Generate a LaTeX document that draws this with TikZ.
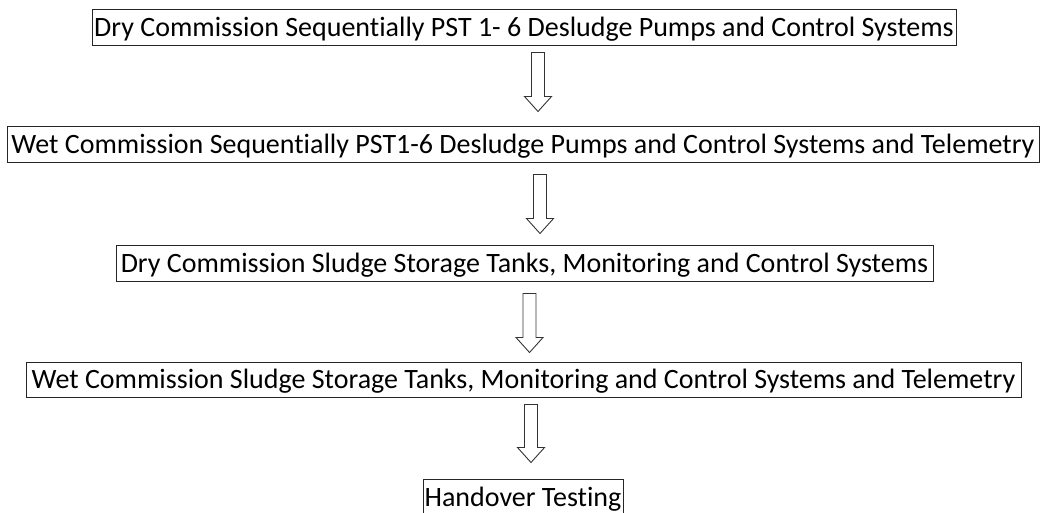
\documentclass[tikz,border=0pt]{standalone}
\usepackage{fontspec}
\setmainfont[Ligatures=NoCommon]{Carlito}
\usetikzlibrary{calc}
\tikzset{
  stepbox/.style={draw=black!85, line width=1pt, inner sep=0pt, text=black,
    font=\fontsize{28}{32}\selectfont, anchor=center, text height=21pt, text depth=3pt},
  hollow/.style={draw=black!80, line width=0.9pt, fill=white, line join=miter}
}
\newcommand{\hollowarrow}[2]{%
  \draw[hollow] let \p1=(#1), \p2=(#2) in
    (\x1-6.5pt,\y1) -- (\x1+6.5pt,\y1) -- (\x1+6.5pt,\y2+15pt) -- (\x1+13.5pt,\y2+15pt)
    -- (\x1,\y2) -- (\x1-13.5pt,\y2+15pt) -- (\x1-6.5pt,\y2+15pt) -- cycle;}
\begin{document}
\begin{tikzpicture}[x=1pt,y=-1pt]
\useasboundingbox (0,0) rectangle (1043,513);
\node[stepbox, minimum width=864pt, minimum height=36pt] (b1) at (524,28)
  {Dry Commission Sequentially PST 1- 6 Desludge Pumps and Control Systems};
\node[stepbox, minimum width=1032pt, minimum height=36pt] (b2) at (523,145)
  {Wet Commission Sequentially PST1-6 Desludge Pumps and Control Systems and Telemetry};
\node[stepbox, minimum width=817pt, minimum height=36pt] (b3) at (524.5,263)
  {Dry Commission Sludge Storage Tanks, Monitoring and Control Systems};
\node[stepbox, minimum width=995pt, minimum height=35pt] (b4) at (523.5,379.5)
  {Wet Commission Sludge Storage Tanks, Monitoring and Control Systems and Telemetry};
\node[stepbox, minimum width=200pt, minimum height=36pt] (b5) at (523,497)
  {Handover Testing};
% arrow anchors
\coordinate (a1s) at ($(b1.south)+(14,6)$);
\coordinate (a1e) at ($(b2.north)+(15,-15)$);
\coordinate (a2s) at ($(b2.south)+(17,11)$);
\coordinate (a2e) at ($(b3.north)+(15.5,-11)$);
\coordinate (a3s) at ($(b3.south)+(5,12)$);
\coordinate (a3e) at ($(b4.north)+(6,-9)$);
\coordinate (a4s) at ($(b4.south)+(7.5,7)$);
\coordinate (a4e) at ($(b5.north)+(8,-16)$);
\hollowarrow{a1s}{a1e}
\hollowarrow{a2s}{a2e}
\hollowarrow{a3s}{a3e}
\hollowarrow{a4s}{a4e}
\end{tikzpicture}
\end{document}
